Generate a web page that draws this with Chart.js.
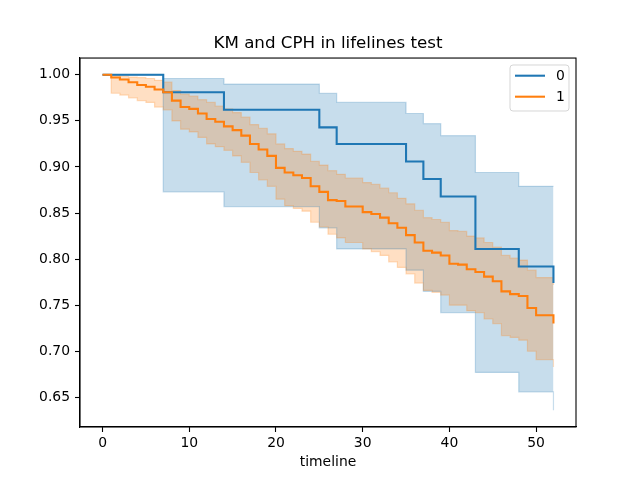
<!DOCTYPE html>
<html><head><meta charset="utf-8">
<script src="https://cdn.jsdelivr.net/npm/chart.js@4.4.0/dist/chart.umd.min.js"></script>
<style>html,body{margin:0;padding:0;background:#fff}</style>
</head><body>
<canvas id="c" width="640" height="480" style="width:640px;height:480px;display:block"></canvas>
<script>
const chartTitle = 'KM and CPH in lifelines test';
const xLabel = 'timeline';
const groupLabels = ['0', '1'];
const xTicks = [0, 10, 20, 30, 40, 50];
const yTicks = [0.65, 0.70, 0.75, 0.80, 0.85, 0.90, 0.95, 1.00];

// group 0
const timesG0 = [0, 7, 14, 25, 27, 35, 37, 39, 43, 48, 52];
const survG0  = [1.000, 0.981, 0.962, 0.943, 0.925, 0.906, 0.887, 0.868, 0.811, 0.792, 0.774];
const upperG0 = [1.000, 0.996, 0.990, 0.980, 0.970, 0.958, 0.947, 0.934, 0.894, 0.879, 0.879];
const lowerG0 = [1.000, 0.873, 0.857, 0.834, 0.811, 0.788, 0.765, 0.742, 0.677, 0.656, 0.636];

// group 1
const timesG1 = [0,1,2,3,4,5,6,7,8,9,10,11,12,13,14,15,16,17,18,19,20,21,22,23,24,25,26,27,28,29,30,31,32,33,34,35,36,37,38,39,40,41,42,43,44,45,46,47,48,49,50,51,52];
const survG1 = [1.000,0.997,0.995,0.992,0.989,0.987,0.984,0.981,0.972,0.965,0.963,0.958,0.952,0.949,0.944,0.940,0.934,0.925,0.919,0.912,0.899,0.894,0.891,0.888,0.879,0.873,0.864,0.863,0.857,0.857,0.851,0.849,0.845,0.839,0.834,0.826,0.818,0.809,0.807,0.804,0.795,0.794,0.789,0.786,0.781,0.776,0.765,0.762,0.760,0.747,0.739,0.739,0.730];
const upperG1 = [1.000,0.9995,0.9985,0.9975,0.997,0.996,0.994,0.992,0.983,0.979,0.977,0.973,0.970,0.966,0.963,0.959,0.954,0.946,0.942,0.936,0.925,0.920,0.917,0.914,0.906,0.902,0.896,0.892,0.888,0.888,0.883,0.881,0.877,0.872,0.866,0.860,0.853,0.845,0.843,0.840,0.831,0.830,0.825,0.823,0.818,0.813,0.804,0.801,0.799,0.788,0.780,0.780,0.772];
const lowerG1 = [1.000,0.980,0.978,0.975,0.972,0.970,0.965,0.962,0.950,0.941,0.938,0.932,0.925,0.922,0.918,0.912,0.905,0.894,0.886,0.879,0.865,0.858,0.855,0.852,0.840,0.835,0.827,0.823,0.818,0.818,0.811,0.808,0.804,0.797,0.791,0.784,0.774,0.766,0.764,0.761,0.750,0.750,0.744,0.742,0.735,0.730,0.717,0.715,0.712,0.700,0.691,0.691,0.683];

const C0 = '#1f77b4', C1 = '#ff7f0e';
const C0a = 'rgba(31,119,180,0.25)', C1a = 'rgba(255,127,14,0.25)';

function pts(ts, vs) { return ts.map((t, i) => ({x: t, y: vs[i]})); }

const allY = [].concat(survG0, upperG0, lowerG0, survG1, upperG1, lowerG1);
const allX = [].concat(timesG0, timesG1);
const yMinD = Math.min(...allY), yMaxD = Math.max(...allY);
const xMinD = Math.min(...allX), xMaxD = Math.max(...allX);
const yM = (yMaxD - yMinD) * 0.05, xM = (xMaxD - xMinD) * 0.05;

Chart.defaults.font.family = 'DejaVu Sans';
Chart.defaults.color = '#000';

const framePlugin = {
  id: 'frameLegend',
  afterDraw(chart) {
    const {ctx, chartArea: a} = chart;
    ctx.save();
    ctx.strokeStyle = '#000';
    ctx.lineWidth = 1.1;
    ctx.strokeRect(a.left, a.top, a.right - a.left, a.bottom - a.top);
    // legend
    const bx = 510, by = 65, bw = 59, bh = 46, r = 3;
    ctx.beginPath();
    ctx.moveTo(bx + r, by);
    ctx.arcTo(bx + bw, by, bx + bw, by + bh, r);
    ctx.arcTo(bx + bw, by + bh, bx, by + bh, r);
    ctx.arcTo(bx, by + bh, bx, by, r);
    ctx.arcTo(bx, by, bx + bw, by, r);
    ctx.closePath();
    ctx.fillStyle = 'rgba(255,255,255,0.8)';
    ctx.fill();
    ctx.strokeStyle = 'rgba(204,204,204,0.8)';
    ctx.lineWidth = 1;
    ctx.stroke();
    const rows = [[C0, groupLabels[0], 75.7], [C1, groupLabels[1], 96.7]];
    ctx.font = '13.9px "DejaVu Sans"';
    ctx.textBaseline = 'middle';
    ctx.textAlign = 'left';
    for (const [col, lab, yy] of rows) {
      ctx.strokeStyle = col;
      ctx.lineWidth = 2.08;
      ctx.beginPath();
      ctx.moveTo(515, yy);
      ctx.lineTo(545, yy);
      ctx.stroke();
      ctx.fillStyle = '#000';
      ctx.fillText(lab, 556, yy + 1);
    }
    ctx.restore();
  }
};

new Chart(document.getElementById('c'), {
  type: 'line',
  data: {
    datasets: [
      {label: groupLabels[0], data: pts(timesG0, survG0), borderColor: C0, borderWidth: 2.08, stepped: 'before', fill: false, order: 1, pointRadius: 0},
      {label: groupLabels[1], data: pts(timesG1, survG1), borderColor: C1, borderWidth: 2.08, stepped: 'before', fill: false, order: 0, pointRadius: 0},
      {label: 'upper0', data: pts(timesG0, upperG0), borderColor: C0a, backgroundColor: C0a, borderWidth: 1.2, stepped: 'before', fill: 3, order: 5, pointRadius: 0},
      {label: 'lower0', data: pts(timesG0, lowerG0), borderColor: C0a, borderWidth: 1.2, stepped: 'before', fill: false, order: 5, pointRadius: 0},
      {label: 'upper1', data: pts(timesG1, upperG1), borderColor: C1a, backgroundColor: C1a, borderWidth: 1.2, stepped: 'before', fill: 5, order: 3, pointRadius: 0},
      {label: 'lower1', data: pts(timesG1, lowerG1), borderColor: C1a, borderWidth: 1.2, stepped: 'before', fill: false, order: 3, pointRadius: 0}
    ]
  },
  options: {
    responsive: false,
    animation: false,
    devicePixelRatio: 1,
    layout: {padding: {left: 16, right: 0, top: 0, bottom: 0}},
    plugins: {
      legend: {display: false},
      tooltip: {enabled: false},
      filler: {drawTime: 'beforeDatasetsDraw', propagate: false},
      title: {display: true, text: chartTitle, color: '#000', font: {size: 16.7, weight: 'normal'}, padding: {top: 34, bottom: 4}}
    },
    scales: {
      x: {
        type: 'linear', min: xMinD - xM, max: xMaxD + xM,
        afterBuildTicks: s => { s.ticks = xTicks.map(v => ({value: v})); },
        afterFit: s => { s.height = 53; },
        ticks: {color: '#000', font: {size: 13.9}, padding: 3, maxRotation: 0, callback: v => String(v)},
        grid: {drawOnChartArea: false, drawTicks: true, tickLength: 5, tickColor: '#000', tickWidth: 1.1},
        border: {display: true, color: '#000', width: 1.1},
        title: {display: true, text: xLabel, color: '#000', font: {size: 13.9}, padding: {top: 0, bottom: 9.6}}
      },
      y: {
        type: 'linear', min: yMinD - yM, max: yMaxD + yM,
        afterBuildTicks: s => { s.ticks = yTicks.map(v => ({value: v})); },
        afterFit: s => { s.width = 64; },
        ticks: {color: '#000', font: {size: 13.9}, padding: 5, callback: v => Number(v).toFixed(2)},
        grid: {drawOnChartArea: false, drawTicks: true, tickLength: 5, tickColor: '#000', tickWidth: 1.1},
        border: {display: true, color: '#000', width: 1.1}
      },
      yPad: {
        type: 'linear', position: 'right', display: true,
        afterFit: s => { s.width = 64; },
        ticks: {display: false},
        grid: {display: false, drawOnChartArea: false, drawTicks: false},
        border: {display: false}
      }
    }
  },
  plugins: [framePlugin]
});
</script>
</body></html>
